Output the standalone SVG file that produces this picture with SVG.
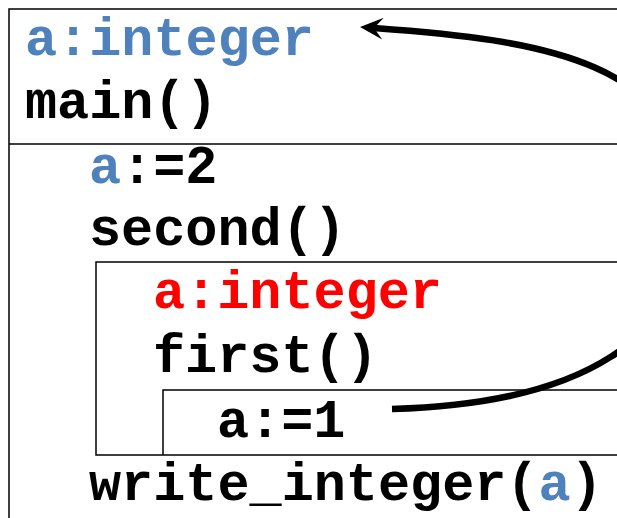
<svg xmlns="http://www.w3.org/2000/svg" width="617" height="518" viewBox="0 0 617 518">
<defs>
<style>
.t{font-family:"Courier New","Liberation Mono",monospace;font-weight:bold;font-size:53.5px;fill:#000}
.b{fill:#4F81BD}
.r{fill:#FF0000}
.box{fill:none;stroke:#000;stroke-width:1.5}
</style>
<marker id="ah" viewBox="0 0 23 22" refX="9" refY="11" markerWidth="23" markerHeight="22" orient="auto" markerUnits="userSpaceOnUse">
<path d="M23,11 L0,0 L9,11 L0,22 Z" fill="#000"/>
</marker>
</defs>
<rect width="617" height="518" fill="#fff"/>
<g id="main">
<path class="box" d="M620,9 H9 V520 M9,144 H620"/>
<text class="t" x="25" y="55"><tspan class="b">a:integer</tspan></text>
<text class="t" x="25" y="118">main()</text>
<text class="t" x="89" y="183"><tspan class="b">a</tspan>:=2</text>
<text class="t" x="89" y="245">second()</text>
<text class="t" x="89" y="500">write_integer(<tspan class="b">a</tspan>)</text>
</g>
<g id="second">
<path class="box" d="M620,262 H96 V455 H620"/>
<text class="t r" x="153" y="308">a:integer</text>
<text class="t" x="153" y="372">first()</text>
</g>
<g id="first">
<path class="box" d="M620,390 H163 V455"/>
<text class="t" x="217" y="437">a:=1</text>
</g>
<g id="connectors">
<path d="M392,409 C580,404 690,340 690,210 C690,60 540,40 374,28" fill="none" stroke="#000" stroke-width="6.5" marker-end="url(#ah)"/>
</g>
</svg>
